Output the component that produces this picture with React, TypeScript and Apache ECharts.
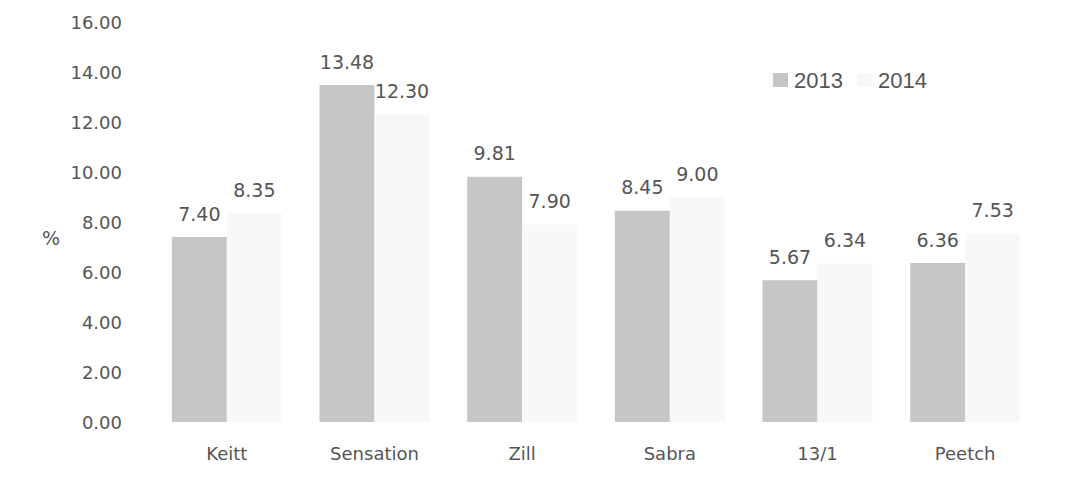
import React, { useEffect, useRef } from "react";
import * as echarts from "echarts";

const categories = ["Keitt", "Sensation", "Zill", "Sabra", "13/1", "Peetch"];
const values2013 = [7.4, 13.48, 9.81, 8.45, 5.67, 6.36];
const values2014 = [8.35, 12.3, 7.9, 9.0, 6.34, 7.53];
const seriesNames = ["2013", "2014"];
const yAxisUnit = "%";

export default function App() {
  const ref = useRef<HTMLDivElement>(null);
  useEffect(() => {
    if (!ref.current) return;
    const chart = echarts.init(ref.current, undefined, { renderer: "svg" });
    const labelStyle = {
      show: true,
      position: "top" as const,
      distance: 14,
      fontFamily: "DejaVu Sans",
      fontSize: 19,
      color: "#555",
      formatter: (p: any) => Number(p.value).toFixed(2),
    };
    chart.setOption({
      animation: false,
      backgroundColor: "#ffffff",
      grid: { left: 145, right: 40, top: 14, bottom: 65 },
      legend: {
        data: seriesNames,
        left: 760,
        top: 56,
        padding: 5,
        itemWidth: 15,
        itemHeight: 14,
        itemGap: 14,
        icon: "rect",
        textStyle: { fontFamily: "Liberation Sans", fontSize: 22, color: "#555", padding: [0, 0, 0, 1] },
      },
      graphic: [
        {
          type: "text",
          left: 34,
          top: 220,
          style: { text: yAxisUnit, fontFamily: "DejaVu Sans", fontSize: 19, fill: "#555" },
        },
      ],
      xAxis: {
        type: "category",
        data: categories,
        axisLine: { show: false },
        axisTick: { show: false },
        axisLabel: { fontFamily: "DejaVu Sans", fontSize: 18, color: "#555", margin: 22 },
      },
      yAxis: {
        type: "value",
        min: 0,
        max: 16,
        interval: 2,
        splitLine: { show: false },
        axisLine: { show: false },
        axisTick: { show: false },
        axisLabel: {
          fontFamily: "DejaVu Sans",
          fontSize: 18,
          color: "#555",
          margin: 31,
          formatter: (v: number) => v.toFixed(2),
        },
      },
      series: [
        {
          name: seriesNames[0],
          type: "bar",
          data: values2013,
          barWidth: 55,
          barGap: "0%",
          itemStyle: { color: "#c6c6c6" },
          label: labelStyle,
        },
        {
          name: seriesNames[1],
          type: "bar",
          data: values2014,
          barWidth: 55,
          barGap: "0%",
          itemStyle: { color: "#f8f8f8" },
          label: labelStyle,
        },
      ],
    });
    return () => chart.dispose();
  }, []);
  return <div ref={ref} style={{ width: 1071, height: 479 }} />;
}
